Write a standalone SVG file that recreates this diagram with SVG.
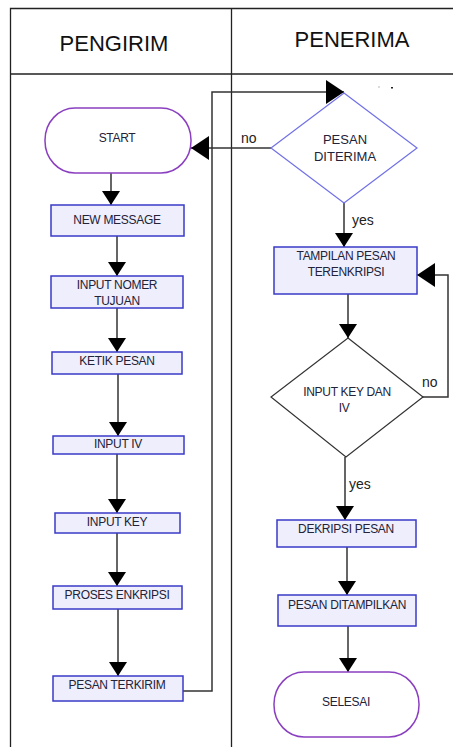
<svg xmlns="http://www.w3.org/2000/svg" width="453" height="747" viewBox="0 0 453 747">
<defs>
<marker id="ah" viewBox="0 0 14 18" refX="14" refY="9" markerWidth="14" markerHeight="18" markerUnits="userSpaceOnUse" orient="auto">
<path d="M0,0 L14,9 L0,18 Z" fill="#000"/>
</marker>
<marker id="ahb" viewBox="0 0 18 24" refX="18" refY="12" markerWidth="18" markerHeight="24" markerUnits="userSpaceOnUse" orient="auto">
<path d="M0,0 L18,12 L0,24 Z" fill="#000"/>
</marker>
</defs>
<style>
.frame{fill:none;stroke:#222;stroke-width:1.3}
.box{fill:#EEEEFC;stroke:#3A3AC8;stroke-width:1.5}
.term{fill:#fff;stroke:#8A3FC0;stroke-width:1.5}
.dia1{fill:#fff;stroke:#7070E8;stroke-width:1.2}
.dia2{fill:#fff;stroke:#333;stroke-width:1.2}
.t{font-family:"Liberation Sans",Arial,sans-serif;font-size:12px;fill:#222238;text-anchor:middle;dominant-baseline:central;letter-spacing:-0.3px}
.td{font-family:"Liberation Sans",Arial,sans-serif;font-size:13px;fill:#222238;text-anchor:middle;dominant-baseline:central}
.h{font-family:"Liberation Sans",Arial,sans-serif;font-size:22px;fill:#111;text-anchor:middle}
.lbl{font-family:"Liberation Sans",Arial,sans-serif;font-size:14px;fill:#222}
.c{fill:none;stroke:#333;stroke-width:1.5}
</style>
<rect width="453" height="747" fill="#fff"/>
<g id="frame">
<path class="frame" d="M10.5,747 V8.5 H453 M231.5,8.5 V747 M10.5,74 H453"/>
<text class="h" x="114" y="51">PENGIRIM</text>
<text class="h" x="352" y="47">PENERIMA</text>
</g>
<g id="connectors">
<path class="c" d="M111,173 V205" marker-end="url(#ah)"/>
<path class="c" d="M117,236 V276" marker-end="url(#ah)"/>
<path class="c" d="M117,308 V352" marker-end="url(#ah)"/>
<path class="c" d="M118,374 V436" marker-end="url(#ah)"/>
<path class="c" d="M117,454 V513" marker-end="url(#ah)"/>
<path class="c" d="M117,533 V586" marker-end="url(#ah)"/>
<path class="c" d="M118,609 V676" marker-end="url(#ah)"/>
<path class="c" d="M183,691 H212 V92 H344" marker-end="url(#ahb)"/>
<path class="c" d="M271,148 H191" marker-end="url(#ahb)"/>
<path class="c" d="M344,203 V247" marker-end="url(#ah)"/>
<path class="c" d="M348,294 V338" marker-end="url(#ah)"/>
<path class="c" d="M423,397 H448 V275 H417" marker-end="url(#ahb)"/>
<path class="c" d="M345,457 V520" marker-end="url(#ah)"/>
<path class="c" d="M347,547 V595" marker-end="url(#ah)"/>
<path class="c" d="M348,626 V672" marker-end="url(#ah)"/>
<text class="lbl" x="241" y="143">no</text>
<text class="lbl" x="352" y="225">yes</text>
<text class="lbl" x="422" y="387">no</text>
<text class="lbl" x="349" y="489">yes</text>
<circle cx="379" cy="87" r="0.7" fill="#99a"/>
<rect x="391" y="87" width="2" height="1.5" fill="#222"/>
</g>
<g id="start">
<rect class="term" x="45" y="108" width="146" height="65" rx="30" ry="32"/>
<text class="t" x="117" y="138">START</text>
</g>
<g id="new-message">
<rect class="box" x="51" y="205" width="133" height="31"/>
<text class="t" x="117" y="220">NEW MESSAGE</text>
</g>
<g id="input-nomer">
<rect class="box" x="51" y="276" width="132" height="32"/>
<text class="t" x="117" y="285">INPUT NOMER</text>
<text class="t" x="117" y="301">TUJUAN</text>
</g>
<g id="ketik-pesan">
<rect class="box" x="52" y="352" width="130" height="22"/>
<text class="t" x="117" y="361">KETIK PESAN</text>
</g>
<g id="input-iv">
<rect class="box" x="53" y="436" width="131" height="18"/>
<text class="t" x="118" y="444">INPUT IV</text>
</g>
<g id="input-key">
<rect class="box" x="55" y="513" width="125" height="20"/>
<text class="t" x="117" y="522">INPUT KEY</text>
</g>
<g id="proses-enkripsi">
<rect class="box" x="53" y="586" width="129" height="23"/>
<text class="t" x="117" y="595">PROSES ENKRIPSI</text>
</g>
<g id="pesan-terkirim">
<rect class="box" x="53" y="676" width="130" height="25"/>
<text class="t" x="117" y="685">PESAN TERKIRIM</text>
</g>
<g id="pesan-diterima">
<path class="dia1" d="M344,93 L417,148 L344,203 L271,148 Z"/>
<text class="td" x="345" y="139">PESAN</text>
<text class="td" x="345" y="156">DITERIMA</text>
</g>
<g id="tampilan">
<rect class="box" x="274" y="247" width="143" height="47"/>
<text class="t" x="346" y="256">TAMPILAN PESAN</text>
<text class="t" x="346" y="272">TERENKRIPSI</text>
</g>
<g id="input-key-iv">
<path class="dia2" d="M348,338 L423,397 L346,457 L271,397 Z"/>
<text class="t" x="347" y="392">INPUT KEY DAN</text>
<text class="t" x="344" y="408">IV</text>
</g>
<g id="dekripsi">
<rect class="box" x="277" y="520" width="139" height="27"/>
<text class="t" x="346" y="529">DEKRIPSI PESAN</text>
</g>
<g id="ditampilkan">
<rect class="box" x="278" y="595" width="138" height="31"/>
<text class="t" x="347" y="605">PESAN DITAMPILKAN</text>
</g>
<g id="selesai">
<rect class="term" x="274" y="672" width="145" height="65" rx="30" ry="32"/>
<text class="t" x="346" y="702">SELESAI</text>
</g>
</svg>
